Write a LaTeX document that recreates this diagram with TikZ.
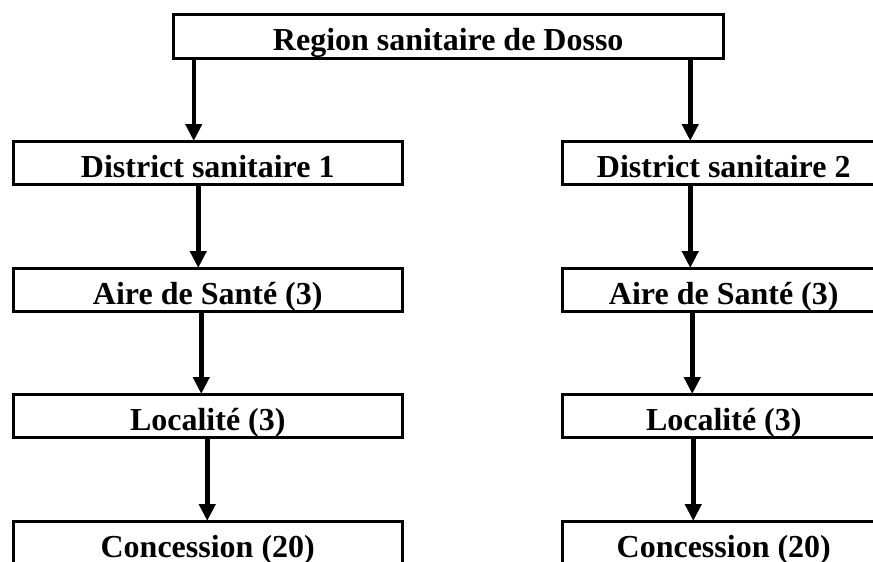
\documentclass[tikz,border=0pt]{standalone}
\usepackage{fontspec}
\setmainfont{Liberation Serif}
\usetikzlibrary{arrows.meta}
\tikzset{
  box/.style={draw=black, line width=2.5pt, rectangle, inner sep=0pt,
    anchor=north west, minimum height=43pt,
    font=\fontsize{32pt}{34pt}\selectfont\bfseries, text height=29pt, text depth=0pt},
  lbox/.style={box, minimum width=389pt},
  rbox/.style={box, minimum width=323pt},
  arr/.style={line width=4.5pt, -{Triangle[width=16pt,length=17pt]}, shorten >=-1pt}
}
\begin{document}
\begin{tikzpicture}[x=1pt,y=1pt]
\useasboundingbox (0,0) rectangle (873,-562);
\clip (0,0) rectangle (873,-562);
\fill[white] (0,0) rectangle (873,-562);
\node[box, minimum width=550pt, minimum height=44pt, text height=28pt] (top) at (172,-13) {Region sanitaire de Dosso};
\node[lbox] (d1) at (12,-140) {District sanitaire 1};
\node[lbox] (a1) at (12,-267) {Aire de Santé (3)};
\node[lbox] (l1) at (12,-393) {Localité (3)};
\node[lbox] (c1) at (12,-520) {Concession (20)};
\node[rbox] (d2) at (561,-140) {District sanitaire 2};
\node[rbox] (a2) at (561,-267) {Aire de Santé (3)};
\node[rbox] (l2) at (561,-393) {Localité (3)};
\node[rbox] (c2) at (561,-520) {Concession (20)};
\draw[arr] ([xshift=-14pt]d1.north |- top.south) -- ([xshift=-14pt]d1.north);
\draw[arr] ([xshift=-33.5pt]d2.north |- top.south) -- ([xshift=-33.5pt]d2.north);
\draw[arr] ([xshift=-9.5pt]d1.south) -- ([xshift=-9.5pt]a1.north);
\draw[arr] ([xshift=-6.5pt]a1.south) -- ([xshift=-6.5pt]l1.north);
\draw[arr] ([xshift=-0.5pt]l1.south) -- ([xshift=-0.5pt]c1.north);
\draw[arr] ([xshift=-33.5pt]d2.south) -- ([xshift=-33.5pt]a2.north);
\draw[arr] ([xshift=-31.5pt]a2.south) -- ([xshift=-31.5pt]l2.north);
\draw[arr] ([xshift=-30.5pt]l2.south) -- ([xshift=-30.5pt]c2.north);
\end{tikzpicture}
\end{document}
